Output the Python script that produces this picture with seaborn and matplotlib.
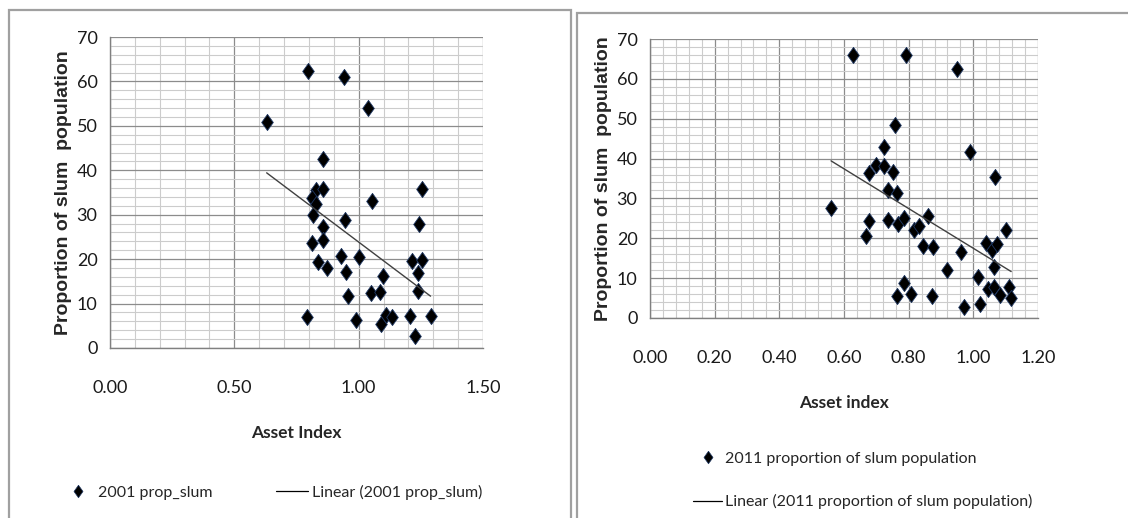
import numpy as np
import pandas as pd
import matplotlib
matplotlib.use("Agg")
import matplotlib.pyplot as plt
from matplotlib.lines import Line2D
from matplotlib.patches import Rectangle
from matplotlib.ticker import MultipleLocator, FormatStrFormatter
import seaborn as sns

# 2001 data (asset index vs proportion of slum population)
asset_2001 = [0.630, 0.798, 0.941, 1.038, 0.858, 1.255, 0.828, 0.858, 0.814, 0.828,
              1.054, 0.818, 0.945, 1.242, 0.855, 0.811, 0.855, 0.927, 1.002, 1.216,
              1.253, 0.838, 0.871, 0.951, 1.239, 1.099, 1.048, 1.085, 1.239, 0.959,
              0.794, 0.988, 1.089, 1.108, 1.136, 1.206, 1.289, 1.226]
slum_2001 = [50.9, 62.4, 60.9, 54.1, 42.5, 35.9, 35.5, 35.8, 33.8, 32.3,
             33.0, 29.9, 28.8, 27.8, 27.3, 23.6, 24.2, 20.7, 20.5, 19.6,
             19.8, 19.4, 17.9, 17.1, 16.9, 16.1, 12.4, 12.5, 12.8, 11.6,
             7.0, 6.2, 5.4, 7.5, 7.0, 7.2, 7.3, 2.8]

# 2011 data
asset_2011 = [0.560, 0.629, 0.793, 0.948, 0.757, 0.723, 0.991, 0.699, 0.725, 0.678,
              0.752, 1.066, 0.737, 0.765, 0.677, 0.735, 0.668, 0.768, 0.786, 0.817,
              0.832, 0.860, 0.845, 0.876, 0.961, 1.038, 1.058, 1.074, 1.102, 1.063,
              0.920, 1.013, 0.786, 0.765, 0.807, 0.873, 0.971, 1.020, 1.046, 1.064,
              1.084, 1.110, 1.117]
slum_2011 = [27.6, 65.9, 65.9, 62.5, 48.5, 42.8, 41.6, 38.5, 38.2, 36.5,
             36.7, 35.5, 32.1, 31.3, 24.4, 24.7, 20.5, 23.7, 25.2, 22.2,
             23.1, 25.7, 18.1, 17.9, 16.5, 18.8, 17.1, 18.5, 22.2, 12.8,
             12.1, 10.3, 8.9, 5.4, 5.9, 5.4, 2.8, 3.6, 7.4, 7.9,
             5.7, 7.9, 4.9]

df01 = pd.DataFrame({"asset": asset_2001, "slum": slum_2001})
df11 = pd.DataFrame({"asset": asset_2011, "slum": slum_2011})

sns.set_style("white")
plt.rcParams['font.family'] = ['Lato', 'DejaVu Sans']

fig = plt.figure(figsize=(11.28, 5.18), dpi=100)
W, H = 1128, 518

def px_axes(x0, y0, x1, y1):
    return fig.add_axes([x0 / W, 1 - y1 / H, (x1 - x0) / W, (y1 - y0) / H])

ax1 = px_axes(110, 37, 483, 348)
ax2 = px_axes(650, 39, 1038, 318)

# panel frames
fig.patches.append(Rectangle((9 / W, -0.05), (571 - 9) / W, 1 - 10 / H + 0.05,
                             transform=fig.transFigure, fill=False,
                             edgecolor="#a0a0a0", lw=1.6))
fig.patches.append(Rectangle((577 / W, -0.05), 0.6, 1 - 13 / H + 0.05,
                             transform=fig.transFigure, fill=False,
                             edgecolor="#a0a0a0", lw=1.6))

# diamond a bit wider than matplotlib's thin diamond
diamond = [(0, 1), (0.72, 0), (0, -1), (-0.72, 0), (0, 1)]

def style(ax, xmax, xmaj, xmin_step, df, xlabel):
    sns.scatterplot(data=df, x="asset", y="slum", ax=ax, marker=diamond, s=135,
                    color="black", edgecolor="#1f3864", linewidth=0.6, zorder=3,
                    legend=False)
    sns.regplot(data=df, x="asset", y="slum", ax=ax, scatter=False, ci=None,
                color="#404040", line_kws={"lw": 1.0, "zorder": 4})
    ax.set_xlim(0, xmax)
    ax.set_ylim(0, 70)
    ax.xaxis.set_major_locator(MultipleLocator(xmaj))
    ax.xaxis.set_minor_locator(MultipleLocator(xmin_step))
    ax.yaxis.set_major_locator(MultipleLocator(10))
    ax.yaxis.set_minor_locator(MultipleLocator(2))
    ax.xaxis.set_major_formatter(FormatStrFormatter("%.2f"))
    ax.grid(which="major", color="#8c8c8c", lw=0.9)
    ax.grid(which="minor", color="#cccccc", lw=0.8)
    ax.set_axisbelow(True)
    for s in ["top", "right"]:
        ax.spines[s].set_visible(False)
    for s in ["left", "bottom"]:
        ax.spines[s].set_color("#808080")
        ax.spines[s].set_linewidth(1.0)
    ax.tick_params(axis="x", which="major", direction="out", length=6,
                   color="#808080", pad=17, labelsize=13, labelcolor="#1a1a1a")
    ax.tick_params(axis="y", which="major", direction="out", length=5,
                   color="#808080", pad=4, labelsize=13, labelcolor="#1a1a1a")
    ax.tick_params(which="minor", length=0)
    ax.set_xlabel(xlabel, fontsize=12.5, fontweight="bold", labelpad=21)
    ax.set_ylabel("Proportion of slum  population", fontsize=14, fontweight="bold",
                  family=["Liberation Sans", "DejaVu Sans"], labelpad=3)

style(ax1, 1.5, 0.5, 0.1, df01, "Asset Index")
style(ax2, 1.2, 0.2, 0.04, df11, "Asset index")

mk = Line2D([], [], marker=diamond, ls="none", color="black", markersize=9,
            markeredgecolor="#1f3864", markeredgewidth=0.5)
ln = Line2D([], [], color="black", lw=0.9)

fig.legend([mk, ln], ["2001 prop_slum", "Linear (2001 prop_slum)"],
           loc="center", bbox_to_anchor=(272 / W, 1 - 492 / H), ncol=2,
           frameon=False, fontsize=11.5, handlelength=2.0, columnspacing=4.0,
           handletextpad=0.25)
fig.legend([mk, ln], ["2011 proportion of slum population",
                      "Linear (2011 proportion of slum population)"],
           loc="upper left", bbox_to_anchor=(687 / W, 1 - 445 / H), ncol=1,
           frameon=False, fontsize=11.5, handlelength=1.8, labelspacing=1.8,
           handletextpad=0.2, borderaxespad=0)

fig.savefig("out.png", dpi=100)
